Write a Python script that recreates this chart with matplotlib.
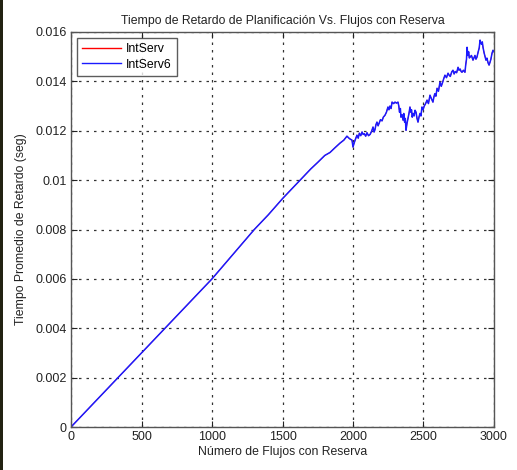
import matplotlib
matplotlib.use("Agg")
import matplotlib.pyplot as plt
from matplotlib.patches import Rectangle

title = "Tiempo de Retardo de Planificación Vs. Flujos con Reserva"
xlabel = "Número de Flujos con Reserva"
ylabel = "Tiempo Promedio de Retardo (seg)"
series_names = ["IntServ", "IntServ6"]

flows = [0, 250, 500, 750, 1000, 1150, 1300, 1400, 1500, 1625, 1700, 1750, 1800, 1837,
         1870, 1908, 1935, 1957, 1975, 1993, 2000, 2008, 2015, 2028, 2037, 2045, 2055, 2064,
         2072, 2080, 2090, 2099, 2110, 2121, 2132, 2142, 2150, 2156, 2163, 2170, 2178, 2185,
         2195, 2206, 2215, 2227, 2237, 2248, 2255, 2262, 2270, 2277, 2288, 2298, 2308, 2319,
         2325, 2330, 2336, 2340, 2348, 2355, 2360, 2366, 2371, 2376, 2383, 2390, 2397, 2404,
         2410, 2415, 2420, 2426, 2433, 2440, 2447, 2454, 2461, 2468, 2475, 2482, 2489, 2497,
         2505, 2515, 2525, 2535, 2546, 2556, 2567, 2573, 2580, 2588, 2596, 2606, 2617, 2626,
         2635, 2643, 2652, 2663, 2674, 2682, 2690, 2700, 2709, 2717, 2725, 2735, 2745, 2752,
         2760, 2767, 2773, 2783, 2794, 2800, 2805, 2809, 2815, 2820, 2825, 2830, 2840, 2851,
         2858, 2865, 2872, 2879, 2888, 2895, 2901, 2907, 2912, 2917, 2922, 2930, 2937, 2943,
         2950, 2958, 2965, 2972, 2978, 2986, 2993, 3000]
delay_ms = [0.0, 1.5, 3.0, 4.5, 6.0, 7.0, 8.0, 8.6, 9.25, 10.0, 10.45, 10.72, 11.0, 11.12,
            11.3, 11.5, 11.62, 11.78, 11.68, 11.62, 11.34, 11.5, 11.62, 11.82, 11.7, 11.9, 11.8, 11.95,
            11.85, 11.88, 11.78, 11.92, 11.8, 11.85, 11.98, 12.15, 11.95, 12.05, 12.25, 12.35, 12.2, 12.3,
            12.45, 12.4, 12.55, 12.63, 12.75, 12.96, 12.85, 13.0, 12.9, 13.16, 13.1, 13.16, 13.12, 13.16,
            13.0, 12.75, 12.9, 12.55, 12.65, 12.43, 12.7, 12.35, 12.5, 12.02, 12.3, 12.5, 12.7, 12.96,
            12.75, 12.85, 12.55, 12.7, 12.6, 12.83, 12.75, 12.5, 12.35, 12.55, 12.7, 12.6, 12.96, 12.85,
            13.0, 13.1, 13.24, 13.1, 13.44, 13.3, 13.16, 13.35, 13.5, 13.4, 13.72, 13.6, 13.97, 13.8,
            13.95, 14.1, 14.25, 14.15, 14.33, 14.25, 14.2, 14.38, 14.45, 14.3, 14.4, 14.35, 14.57, 14.45,
            14.5, 14.4, 14.37, 14.45, 14.37, 14.7, 14.9, 15.38, 15.05, 15.2, 14.95, 14.98, 15.05, 14.86,
            14.95, 15.05, 14.9, 14.98, 15.2, 15.35, 15.67, 15.55, 15.5, 15.6, 15.38, 15.15, 15.0, 14.86,
            14.94, 14.75, 14.66, 14.78, 14.9, 15.14, 15.26, 15.2]

delay = [v / 1000.0 for v in delay_ms]

xticks = [0, 500, 1000, 1500, 2000, 2500, 3000]
yticks = [0, 0.002, 0.004, 0.006, 0.008, 0.01, 0.012, 0.014, 0.016]
yticklabels = ["0", "0.002", "0.004", "0.006", "0.008", "0.01", "0.012", "0.014", "0.016"]

plt.rcParams['font.family'] = ['Liberation Sans Narrow', 'Liberation Sans', 'DejaVu Sans']

fig = plt.figure(figsize=(5.17, 4.70), dpi=100)
fig.patch.set_facecolor("white")
ax = fig.add_axes([71/517, 43/470, 423/517, 395/470])

ax.plot(flows, delay, color="#ff0000", lw=0.6, label=series_names[0])
ax.plot(flows, delay, color="#1a1aff", lw=1.1, label=series_names[1])

ax.set_xlim(0, 3000)
ax.set_ylim(0, 0.016)
ax.set_xticks(xticks)
ax.set_xticklabels([str(t) for t in xticks])
ax.set_yticks(yticks)
ax.set_yticklabels(yticklabels)
ax.tick_params(direction="in", length=4, top=True, right=True, labelsize=9, colors="#222222", pad=3)
ax.grid(True, linestyle=(0, (2, 4)), color="#333333", linewidth=0.9)
for s in ax.spines.values():
    s.set_color("#555555")
    s.set_linewidth(1.0)

ax.set_title(title, fontsize=8.8, color="#222222", pad=6)
ax.set_xlabel(xlabel, fontsize=8.8, color="#222222", labelpad=2)
ax.set_ylabel(ylabel, fontsize=8.8, color="#222222", labelpad=6)

leg = ax.legend(loc="upper left", fontsize=8.8, frameon=True, fancybox=False,
                edgecolor="#333333", borderaxespad=0.5, handlelength=3.2,
                borderpad=0.4, labelspacing=0.3, handletextpad=0.4)
leg.get_frame().set_linewidth(1.0)
leg.legend_handles[0].set_linewidth(1.0)
leg.legend_handles[1].set_linewidth(1.0)

fig.patches.append(Rectangle((0, 0), 3/517, 1, transform=fig.transFigure,
                             facecolor="#222211", edgecolor="none"))

fig.savefig("out.png", dpi=100)
